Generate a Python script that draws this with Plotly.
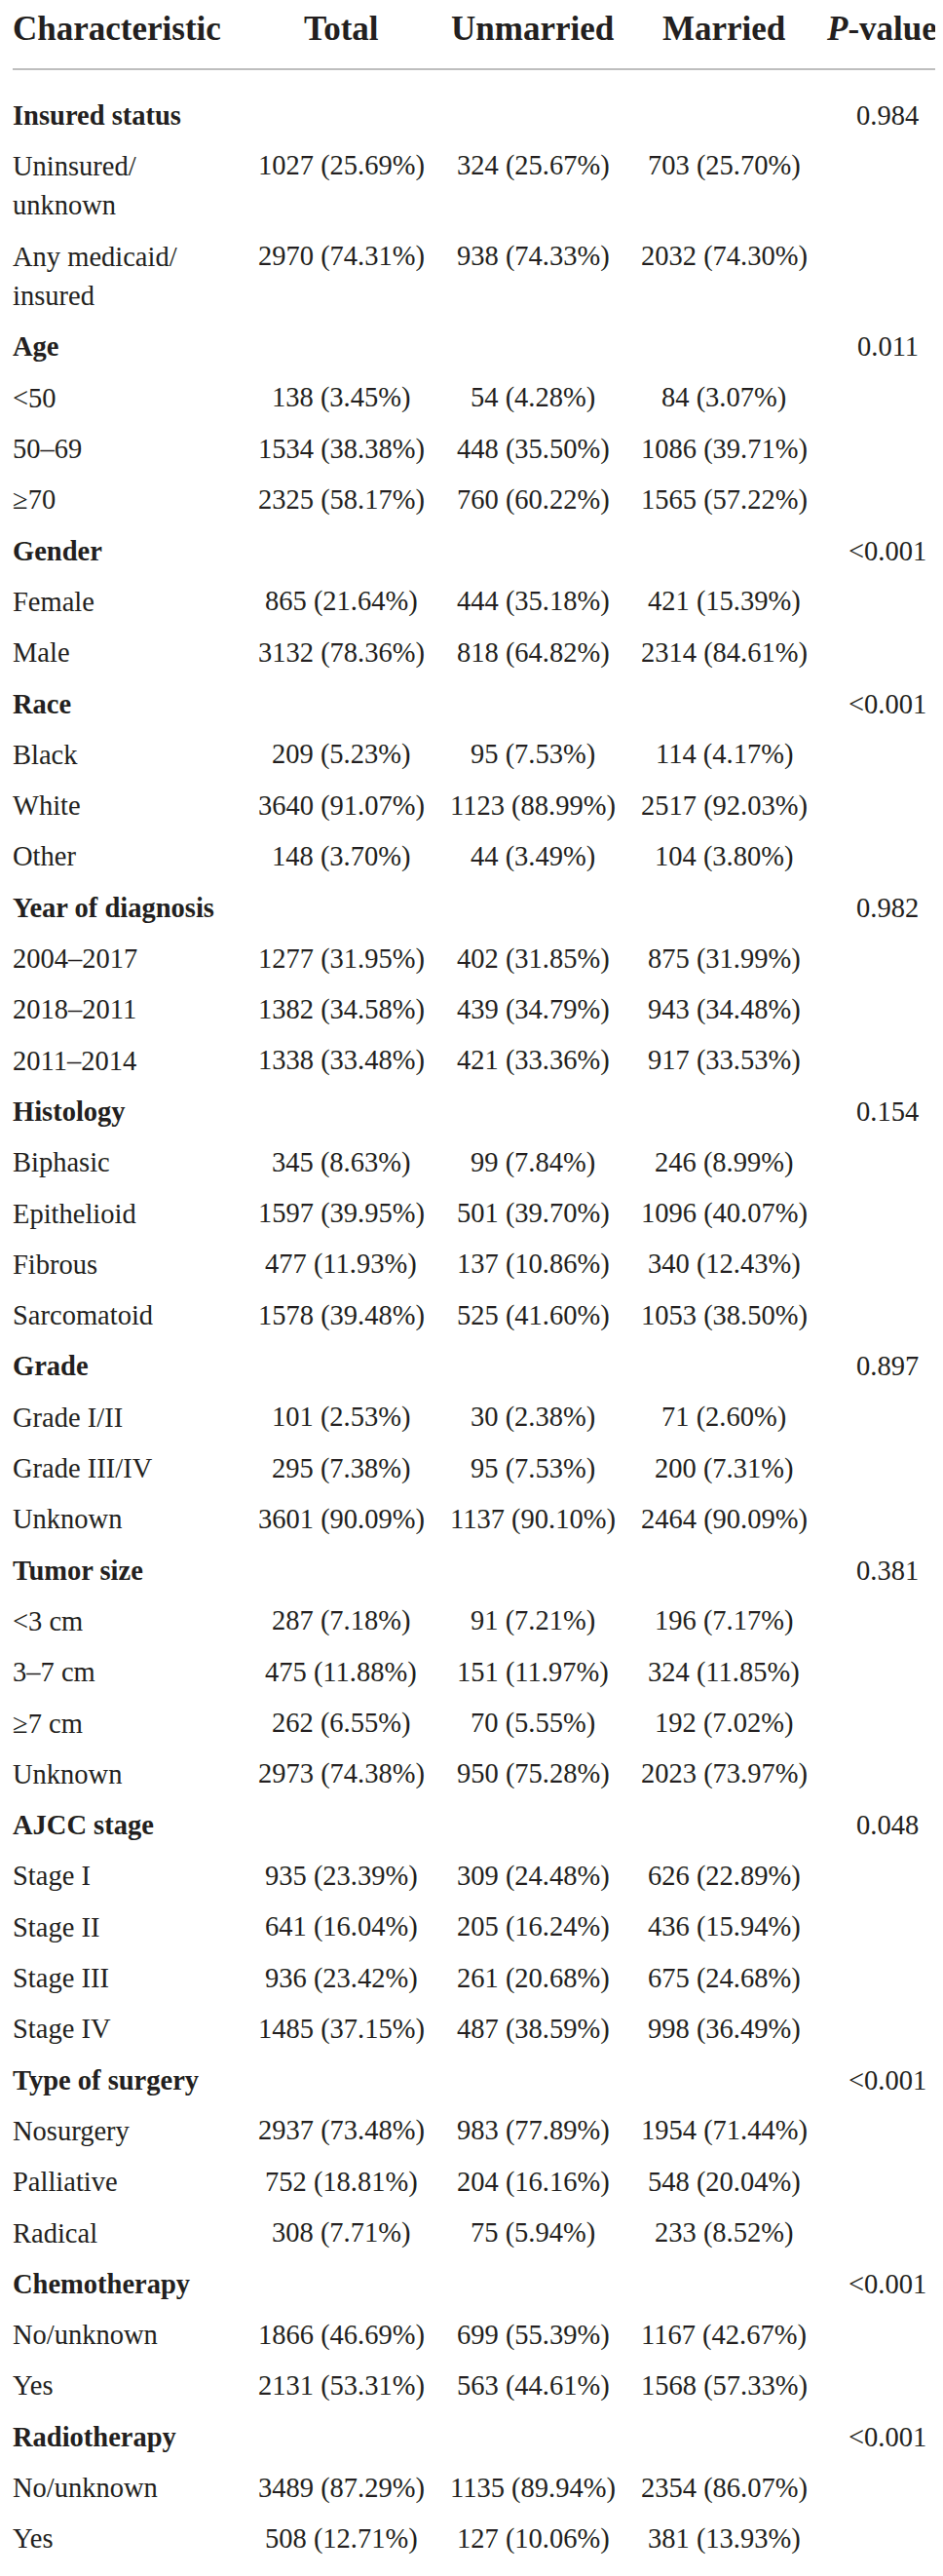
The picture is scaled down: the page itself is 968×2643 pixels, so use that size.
import plotly.graph_objects as go

# ---------------- data ----------------
header_labels = ["Characteristic", "Total", "Unmarried", "Married", "<b><i>P</i></b><b>-value</b>"]

groups = ["Insured status", "Age", "Gender", "Race", "Year of diagnosis", "Histology",
          "Grade", "Tumor size", "AJCC stage", "Type of surgery", "Chemotherapy", "Radiotherapy"]
p_values = ["0.984", "0.011", "<0.001", "<0.001", "0.982", "0.154",
            "0.897", "0.381", "0.048", "<0.001", "<0.001", "<0.001"]

levels = [
    ["Uninsured/<br>unknown", "Any medicaid/<br>insured"],
    ["<50", "50–69", "≥70"],
    ["Female", "Male"],
    ["Black", "White", "Other"],
    ["2004–2017", "2018–2011", "2011–2014"],
    ["Biphasic", "Epithelioid", "Fibrous", "Sarcomatoid"],
    ["Grade I/II", "Grade III/IV", "Unknown"],
    ["<3 cm", "3–7 cm", "≥7 cm", "Unknown"],
    ["Stage I", "Stage II", "Stage III", "Stage IV"],
    ["Nosurgery", "Palliative", "Radical"],
    ["No/unknown", "Yes"],
    ["No/unknown", "Yes"],
]

total_n = [1027, 2970, 138, 1534, 2325, 865, 3132, 209, 3640, 148, 1277, 1382, 1338,
           345, 1597, 477, 1578, 101, 295, 3601, 287, 475, 262, 2973, 935, 641, 936, 1485,
           2937, 752, 308, 1866, 2131, 3489, 508]
total_pct = [25.69, 74.31, 3.45, 38.38, 58.17, 21.64, 78.36, 5.23, 91.07, 3.70, 31.95, 34.58, 33.48,
             8.63, 39.95, 11.93, 39.48, 2.53, 7.38, 90.09, 7.18, 11.88, 6.55, 74.38, 23.39, 16.04, 23.42, 37.15,
             73.48, 18.81, 7.71, 46.69, 53.31, 87.29, 12.71]
unmarried_n = [324, 938, 54, 448, 760, 444, 818, 95, 1123, 44, 402, 439, 421,
               99, 501, 137, 525, 30, 95, 1137, 91, 151, 70, 950, 309, 205, 261, 487,
               983, 204, 75, 699, 563, 1135, 127]
unmarried_pct = [25.67, 74.33, 4.28, 35.50, 60.22, 35.18, 64.82, 7.53, 88.99, 3.49, 31.85, 34.79, 33.36,
                 7.84, 39.70, 10.86, 41.60, 2.38, 7.53, 90.10, 7.21, 11.97, 5.55, 75.28, 24.48, 16.24, 20.68, 38.59,
                 77.89, 16.16, 5.94, 55.39, 44.61, 89.94, 10.06]
married_n = [703, 2032, 84, 1086, 1565, 421, 2314, 114, 2517, 104, 875, 943, 917,
             246, 1096, 340, 1053, 71, 200, 2464, 196, 324, 192, 2023, 626, 436, 675, 998,
             1954, 548, 233, 1167, 1568, 2354, 381]
married_pct = [25.70, 74.30, 3.07, 39.71, 57.22, 15.39, 84.61, 4.17, 92.03, 3.80, 31.99, 34.48, 33.53,
               8.99, 40.07, 12.43, 38.50, 2.60, 7.31, 90.09, 7.17, 11.85, 7.02, 73.97, 22.89, 15.94, 24.68, 36.49,
               71.44, 20.04, 8.52, 42.67, 57.33, 86.07, 13.93]

# ---------------- layout / style ----------------
W, H = 968, 2643
FONT = "Liberation Serif"
INK = "#231f20"
RULE = "#a8a8a8"
BODY = 28.5
HEAD = 35

col_x = [3, 342, 539, 735, 903]
pval_head_left = 838
header_y = 21
top_rule_y = 63
bottom_rule_y = 2637
first_row_y = 110
pitch = 52.3
wrap_extra = 40.5

annotations = []


def add(text, x, y, size=BODY, anchor="center"):
    annotations.append(dict(
        text=text, x=x, y=y, xref="x", yref="y", showarrow=False,
        xanchor=anchor, yanchor="middle",
        font=dict(family=FONT, size=size, color=INK),
    ))


# header
for i, lab in enumerate(header_labels):
    if i == 0:
        add("<b>" + lab + "</b>", col_x[0], header_y, size=HEAD, anchor="left")
    elif i == len(header_labels) - 1:
        add(lab, pval_head_left, header_y, size=HEAD, anchor="left")
    else:
        add("<b>" + lab + "</b>", col_x[i], header_y, size=HEAD, anchor="center")

y = first_row_y
k = 0
for g, grp in enumerate(groups):
    add("<b>" + grp + "</b>", col_x[0], y, anchor="left")
    add(p_values[g], col_x[4], y)
    y += pitch
    for lev in levels[g]:
        parts = lev.split("<br>")
        for j, part in enumerate(parts):
            add(part, col_x[0], y + j * wrap_extra, anchor="left")
        add(f"{total_n[k]} ({total_pct[k]:.2f}%)", col_x[1], y)
        add(f"{unmarried_n[k]} ({unmarried_pct[k]:.2f}%)", col_x[2], y)
        add(f"{married_n[k]} ({married_pct[k]:.2f}%)", col_x[3], y)
        k += 1
        y += pitch + (len(parts) - 1) * wrap_extra

shapes = [
    dict(type="line", xref="x", yref="y", x0=5, x1=963, y0=top_rule_y, y1=top_rule_y,
         line=dict(color=RULE, width=1.5)),
    dict(type="line", xref="x", yref="y", x0=5, x1=963, y0=bottom_rule_y, y1=bottom_rule_y,
         line=dict(color=RULE, width=1.5)),
]

fig = go.Figure()
fig.update_layout(
    width=W, height=H,
    margin=dict(l=0, r=0, t=0, b=0),
    paper_bgcolor="white", plot_bgcolor="white",
    font=dict(family=FONT, color=INK),
    xaxis=dict(range=[0, W], visible=False, fixedrange=True),
    yaxis=dict(range=[H, 0], visible=False, fixedrange=True),
    showlegend=False,
    annotations=annotations,
    shapes=shapes,
)

fig.write_html("out.html")
